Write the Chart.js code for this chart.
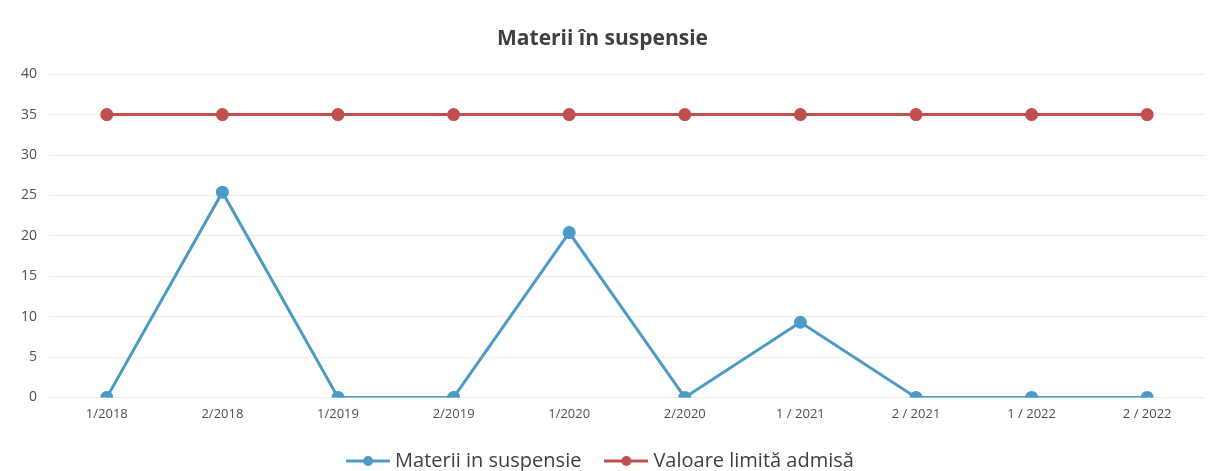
<!DOCTYPE html>
<html>
<head>
<meta charset="utf-8">
<script src="https://cdn.jsdelivr.net/npm/chart.js@4/dist/chart.umd.min.js"></script>
<style>
  html, body { margin: 0; padding: 0; background: #fff; }
  #wrap { width: 1219px; height: 471px; }
</style>
</head>
<body>
<div id="wrap"><canvas id="chart"></canvas></div>
<script>
const periods = ['1/2018', '2/2018', '1/2019', '2/2019', '1/2020', '2/2020', '1 / 2021', '2 / 2021', '1 / 2022', '2 / 2022'];
const suspensie = [0, 25.4, 0, 0, 20.4, 0, 9.3, 0, 0, 0];
const limita = [35, 35, 35, 35, 35, 35, 35, 35, 35, 35];
const yTicks = [0, 5, 10, 15, 20, 25, 30, 35, 40];

const blue = '#4b9bc6';
const red = '#c0504d';

// legend symbol: short line with a dot in the middle
const legendMark = (color) => {
    const c = document.createElement('canvas');
    c.width = 44; c.height = 12;
    const g = c.getContext('2d');
    g.strokeStyle = color; g.lineWidth = 3;
    g.beginPath(); g.moveTo(0, 6); g.lineTo(44, 6); g.stroke();
    g.fillStyle = color;
    g.beginPath(); g.arc(22, 6, 5, 0, Math.PI * 2); g.fill();
    return c;
};

new Chart(document.getElementById('chart'), {
    type: 'line',
    data: {
        labels: periods,
        datasets: [
            {
                label: 'Materii in suspensie',
                data: suspensie,
                borderColor: blue,
                backgroundColor: blue,
                borderWidth: 3,
                pointRadius: 5,
                tension: 0,
            },
            {
                label: 'Valoare limită admisă',
                data: limita,
                borderColor: red,
                backgroundColor: red,
                borderWidth: 3,
                pointRadius: 5,
                tension: 0,
            },
        ],
    },
    options: {
        responsive: true,
        maintainAspectRatio: false,
        animation: false,
        layout: { padding: { left: 0, right: 14, top: 10, bottom: -10 } },
        plugins: {
            title: {
                display: true,
                text: 'Materii în suspensie',
                color: '#404040',
                font: { family: 'Open Sans', size: 21, weight: 'bold' },
                padding: { top: 16, bottom: 23 },
            },
            legend: {
                position: 'bottom',
                labels: {
                    color: '#404040',
                    font: { family: 'Open Sans', size: 20 },
                    usePointStyle: true,
                    pointStyleWidth: 34,
                    boxHeight: 12,
                    padding: 28,
                    generateLabels: (chart) => chart.data.datasets.map((ds, i) => ({
                        text: ds.label,
                        pointStyle: legendMark(ds.borderColor),
                        fontColor: '#404040',
                        datasetIndex: i,
                        lineWidth: 0,
                    })),
                },
            },
        },
        scales: {
            x: {
                offset: true,
                grid: { display: false },
                border: { display: false },
                ticks: { color: '#505050', font: { family: 'Open Sans', size: 13 }, maxRotation: 0, padding: 1 },
            },
            y: {
                min: 0,
                max: 40,
                afterBuildTicks: (axis) => { axis.ticks = yTicks.map(v => ({ value: v })); },
                afterFit: (axis) => { axis.width = 49; },
                grid: { color: '#ececec', drawTicks: false },
                border: { display: false },
                ticks: { color: '#505050', font: { family: 'Open Sans', size: 14 }, padding: 12 },
            },
        },
    },
});
</script>
</body>
</html>
